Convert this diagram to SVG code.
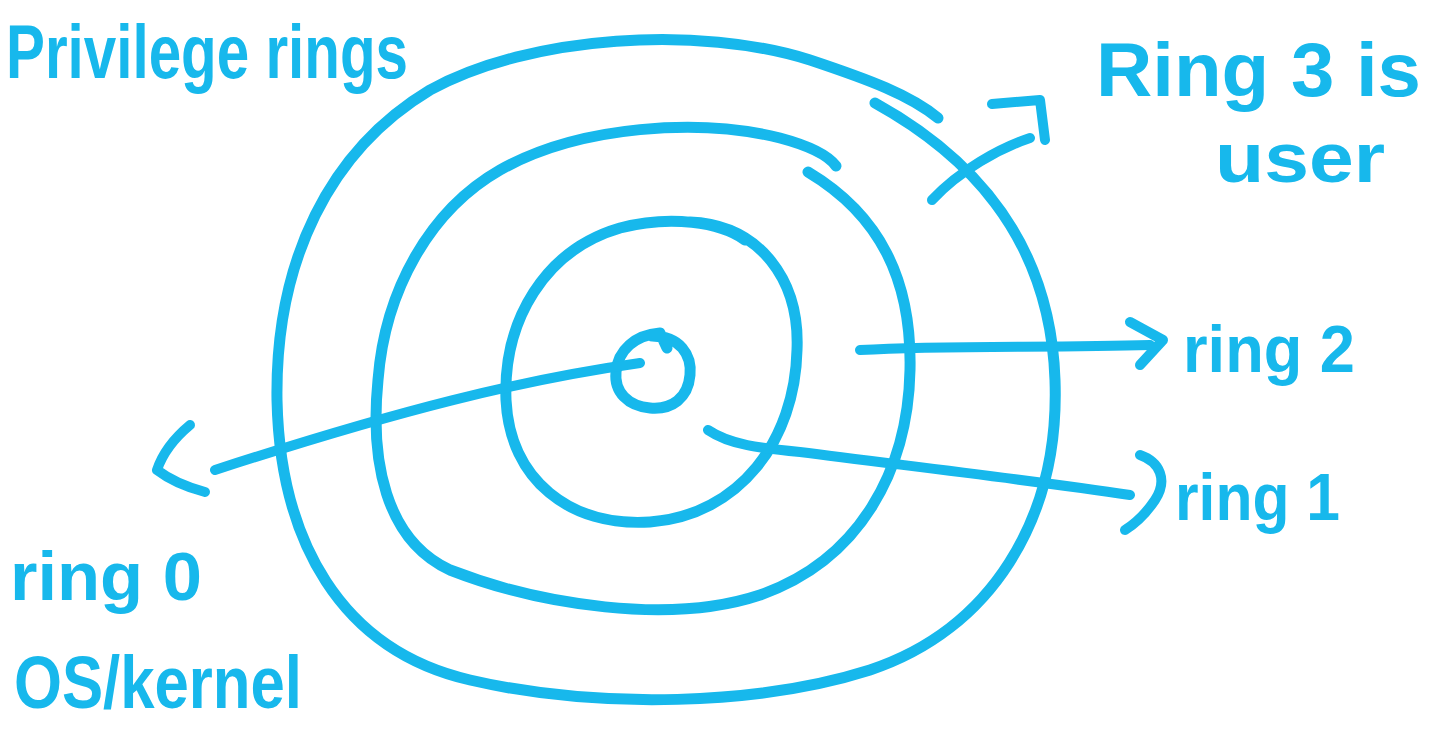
<svg xmlns="http://www.w3.org/2000/svg" width="1435" height="731" viewBox="0 0 1435 731">
<style>
.ink{fill:none;stroke:#17b8ec;stroke-linecap:round;stroke-linejoin:round}
.ring{stroke-width:11}
.con{stroke-width:10}
.lbl{font-family:"Liberation Sans","DejaVu Sans",sans-serif;fill:#17b8ec;font-weight:bold}
</style>
<rect width="1435" height="731" fill="#ffffff"/>
<g id="title"><text class="lbl" x="6" y="78" font-size="76" textLength="402" lengthAdjust="spacingAndGlyphs">Privilege rings</text></g>
<g id="ring3">
<path class="ink ring" d="M 875,103 C 960,150 1050,230 1055,380 C 1060,520 990,630 870,670 C 760,705 600,710 470,680 C 340,650 280,540 277,400 C 275,260 330,150 430,90 C 530,35 700,25 810,60 C 870,80 910,95 938,118"/>
</g>
<g id="ring2">
<path class="ink ring" d="M 808,172 C 880,215 912,280 910,370 C 908,470 860,560 760,595 C 670,625 540,605 450,570 C 385,540 370,460 378,380 C 385,290 430,210 500,170 C 580,125 700,118 780,138 C 810,146 828,155 836,166"/>
</g>
<g id="ring1">
<path class="ink ring" d="M 690,222 C 760,225 800,280 797,350 C 795,440 740,515 650,522 C 570,527 510,480 506,400 C 503,320 545,250 620,228 C 670,215 720,222 745,240"/>
</g>
<g id="ring0">
<path class="ink ring" d="M 652,336 C 680,336 692,355 690,375 C 688,398 672,410 650,408 C 628,406 614,392 616,372 C 618,350 635,335 660,333 L 667,348"/>
</g>
<g id="connectors">
<path class="ink con" d="M 640,363 C 520,380 400,410 215,470"/>
<path class="ink con" d="M 190,425 C 172,440 162,455 157,470 C 170,480 190,488 205,492"/>
<path class="ink con" d="M 860,350 C 950,345 1050,348 1150,345"/>
<path class="ink con" d="M 1130,322 L 1163,340 L 1140,365"/>
<path class="ink con" d="M 708,430 C 730,445 760,448 800,452 C 900,465 1030,480 1130,495"/>
<path class="ink con" d="M 1140,455 C 1160,462 1168,480 1155,500 C 1145,515 1133,525 1125,530"/>
<path class="ink con" d="M 932,200 C 960,170 1000,148 1030,138"/>
<path class="ink con" d="M 992,104 L 1040,100 L 1045,140"/>
</g>
<g id="label-ring3">
<text class="lbl" x="1096" y="96" font-size="76" textLength="325" lengthAdjust="spacingAndGlyphs">Ring 3 is</text>
<text class="lbl" x="1215" y="182" font-size="70" textLength="170" lengthAdjust="spacingAndGlyphs">user</text>
</g>
<g id="label-ring2"><text class="lbl" x="1183" y="372" font-size="66" textLength="172" lengthAdjust="spacingAndGlyphs">ring 2</text></g>
<g id="label-ring1"><text class="lbl" x="1175" y="520" font-size="66" textLength="165" lengthAdjust="spacingAndGlyphs">ring 1</text></g>
<g id="label-ring0">
<text class="lbl" x="10" y="600" font-size="68" textLength="192" lengthAdjust="spacingAndGlyphs">ring 0</text>
<text class="lbl" x="14" y="708" font-size="74" textLength="288" lengthAdjust="spacingAndGlyphs">OS/kernel</text>
</g>
</svg>
